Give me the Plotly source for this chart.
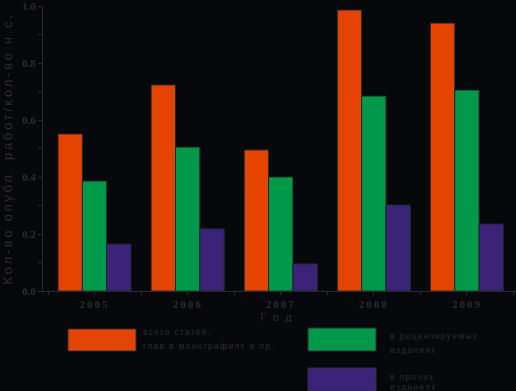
import plotly.graph_objects as go

years = [2005, 2006, 2007, 2008, 2009]
year_labels = ["2005", "2006", "2007", "2008", "2009"]
all_articles = [0.551, 0.723, 0.495, 0.986, 0.940]
reviewed = [0.386, 0.505, 0.400, 0.684, 0.705]
other = [0.165, 0.218, 0.095, 0.302, 0.235]

names = [["всего статей,", "глав в монографиях и пр."], ["в рецензируемых", "изданиях"], ["в прочих", "изданиях"]]
colors = ["#E54400", "#00994A", "#3B2478"]

BG = "#07080B"
TXT = "#2B2B2B"
OUTL = "#1E2828"

def spaced(s, ls):
    return f'<span style="letter-spacing:{ls}px">{s}</span>'

fig = go.Figure()
for vals, nm, col in zip([all_articles, reviewed, other], names, colors):
    fig.add_trace(go.Bar(x=years, y=vals, name=" ".join(nm), marker=dict(color=col, line=dict(color=OUTL, width=1))))

fig.update_layout(
    width=516, height=391,
    paper_bgcolor=BG, plot_bgcolor=BG,
    margin=dict(l=43, r=0, t=6, b=100, autoexpand=False),
    barmode="group", bargap=0.215, bargroupgap=0,
    showlegend=False,
    font=dict(family="Liberation Sans", color=TXT),
)
fig.update_xaxes(
    range=[2004.446, 2009.527],
    tickvals=years, ticktext=[spaced(t, 2) for t in year_labels],
    tickfont=dict(family="Liberation Serif", size=11, color=TXT, weight="bold"),
    ticks="outside", ticklen=3, tickcolor="#2A2A2A",
    minor=dict(tick0=2004.5, dtick=1, ticks="outside", ticklen=3, tickcolor="#2A2A2A"),
    showline=True, linecolor="#2A2A2A", linewidth=1,
    showgrid=False, zeroline=False, automargin=False, ticklabeloverflow="allow",
    title=dict(text=spaced("Год", 7), font=dict(size=11, color="#2E2A25"), standoff=4),
)
fig.update_yaxes(
    range=[0, 1.0],
    tickvals=[0, 0.2, 0.4, 0.6, 0.8, 1.0], tickformat=".1f",
    tickfont=dict(family="Liberation Serif", size=11, color=TXT, weight="bold"),
    ticks="outside", ticklen=4, tickcolor="#2A2A2A",
    minor=dict(dtick=0.1, ticks="outside", ticklen=4, tickcolor="#2A2A2A"),
    showline=True, linecolor="#2A2A2A", linewidth=1,
    showgrid=False, zeroline=False, automargin=False, ticklabeloverflow="allow",
    title=dict(text=spaced("Кол-во опубл. работ/кол-во н.с.", 2.7), font=dict(size=13, color="#2E2A25"), standoff=6),
)

# legend drawn manually (large swatches)
sw = [(68, 136, 329, 351), (308, 376, 328, 351), (308, 376, 368, 391)]
line_pos = [(141, [332, 346]), (388, [336, 350]), (388, [377, 387])]
W, H = 516, 391
px = lambda x: (x - 43) / (W - 43)
py = lambda y: (H - 100 - y) / (H - 106)
for (x0, x1, y0, y1), col in zip(sw, colors):
    fig.add_shape(type="rect", xref="paper", yref="paper",
                  x0=px(x0), x1=px(x1), y0=py(y0), y1=py(y1),
                  fillcolor=col, line=dict(color="#2A2F33", width=1))
for (tx, ys), nm in zip(line_pos, names):
    for ty, line in zip(ys, nm):
        fig.add_annotation(xref="paper", yref="paper", x=px(tx), y=py(ty),
                           xanchor="left", yanchor="middle", align="left", showarrow=False,
                           text=spaced(line, 1.3), font=dict(size=8.5, color=TXT, family="Liberation Sans"))

fig.write_html("out.html", config={"displayModeBar": False},
               post_script="document.body.style.margin='0';document.body.style.background='#07080B';")
